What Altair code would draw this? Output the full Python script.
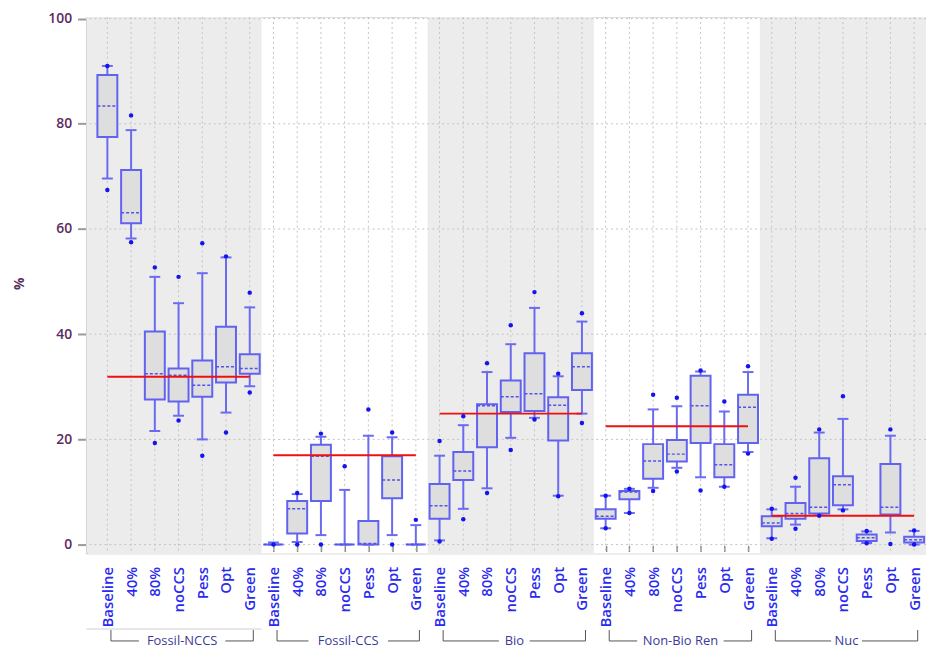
import altair as alt
import pandas as pd
import numpy as np

groups = ["Fossil-NCCS", "Fossil-CCS", "Bio", "Non-Bio Ren", "Nuc"]
scenarios = ["Baseline", "40%", "80%", "noCCS", "Pess", "Opt", "Green"]

# statistics, in order group by group, scenario by scenario (35 boxes)
low_outlier = [67.4, 57.5, 19.3, 23.6, 16.9, 21.3, 28.9,
               0.0, 0.0, 0.0, None, None, 0.0, None,
               0.6, 4.8, 9.8, 18.0, 23.8, 9.2, 23.1,
               3.1, 6.0, 10.2, 13.9, 10.3, 11.0, 17.3,
               1.1, 3.0, 5.5, 6.5, 0.25, 0.1, 0.0]
low_whisker = [69.6, 58.2, 21.6, 24.5, 20.0, 25.1, 30.1,
               0.0, 0.5, 1.8, 0.0, 0.0, 1.8, 0.0,
               0.8, 6.8, 10.7, 20.3, 24.1, 9.3, 24.9,
               3.1, 6.0, 10.8, 14.6, 12.8, 11.0, 17.6,
               1.2, 3.8, 5.9, 6.7, 0.3, 2.3, 0.0]
q1 = [77.5, 61.1, 27.6, 27.2, 28.1, 30.8, 32.5,
      0.0, 2.1, 8.3, 0.0, 0.0, 8.8, 0.0,
      4.9, 12.3, 18.5, 25.2, 25.4, 19.8, 29.4,
      4.9, 8.6, 12.5, 15.8, 19.3, 12.8, 19.3,
      3.5, 4.9, 5.9, 7.5, 0.7, 5.7, 0.4]
median = [83.4, 63.1, 32.5, 32.2, 30.3, 33.8, 33.5,
          0.0, 6.8, 16.8, 0.0, 0.2, 12.3, 0.0,
          7.4, 14.0, 26.4, 28.1, 28.7, 26.5, 33.8,
          5.4, 10.0, 15.9, 17.2, 26.4, 15.2, 26.1,
          4.1, 5.9, 7.1, 11.4, 1.3, 7.1, 0.9]
q3 = [89.3, 71.2, 40.5, 33.5, 35.0, 41.4, 36.2,
      0.0, 8.3, 19.0, 0.0, 4.5, 16.8, 0.0,
      11.5, 17.6, 26.7, 31.2, 36.4, 28.0, 36.4,
      6.7, 10.2, 19.1, 19.9, 32.1, 19.1, 28.5,
      5.4, 7.9, 16.4, 13.0, 1.9, 15.3, 1.5]
high_whisker = [91.0, 78.8, 50.9, 45.9, 51.6, 54.6, 45.1,
                0.4, 9.6, 20.5, 10.4, 20.7, 20.4, 3.7,
                16.9, 22.7, 32.8, 38.1, 45.0, 32.0, 42.4,
                9.3, 10.6, 25.7, 26.3, 32.9, 25.3, 32.8,
                6.7, 11.0, 21.3, 23.9, 2.5, 20.7, 2.6]
high_outlier = [91.0, 81.6, 52.7, 50.9, 57.3, 54.8, 47.9,
                None, 9.8, 21.1, 14.9, 25.7, 21.3, 4.7,
                19.7, 24.4, 34.5, 41.7, 48.0, 32.5, 44.0,
                9.3, 10.6, 28.5, 27.9, 33.1, 27.2, 33.9,
                6.8, 12.7, 21.9, 28.2, 2.6, 21.9, 2.7]
red_levels = [31.9, 17.0, 24.9, 22.5, 5.5]
y_ticks = [0, 20, 40, 60, 80, 100]

# ---------- tables ----------
n_s = len(scenarios)
rows = []
for g, grp in enumerate(groups):
    for s, sc in enumerate(scenarios):
        i = g * n_s + s
        rows.append(dict(idx=i, group=grp, scenario=sc,
                         lw=low_whisker[i], q1=q1[i], med=median[i],
                         q3=q3[i], hw=high_whisker[i]))
df = pd.DataFrame(rows)
df["bl"] = df["idx"] - 0.42
df["br"] = df["idx"] + 0.42
df["cl"] = df["idx"] - 0.23
df["cr"] = df["idx"] + 0.23

out_rows = []
for i in range(len(df)):
    for v in (low_outlier[i], high_outlier[i]):
        if v is not None:
            out_rows.append(dict(idx=i, val=v))
outs = pd.DataFrame(out_rows)

XMIN, XMAX = -0.88, 34.5
W, H = 845, 540
step = W / (XMAX - XMIN)

bands = pd.DataFrame([dict(x0=(XMIN if g == 0 else g * n_s - 0.5),
                           x1=(XMAX if g == len(groups) - 1 else g * n_s + 6.5))
                      for g in range(0, len(groups), 2)])
reds = pd.DataFrame([dict(x0=g * n_s, x1=g * n_s + 6, y=red_levels[g])
                     for g in range(len(groups))])

# bracket pieces below the axis
br_rows, seg_rows, txt_rows = [], [], []
for g, grp in enumerate(groups):
    left = g * n_s + 0.15
    right = g * n_s + 6.15
    centre = (left + right) / 2
    half = (len(grp) * 7.0 / 2 + 5) / step
    seg_rows.append(dict(x0=left, x1=centre - half))
    seg_rows.append(dict(x0=centre + half, x1=right))
    br_rows.append(dict(x=left))
    br_rows.append(dict(x=right))
    txt_rows.append(dict(x=centre, label=grp))
segs = pd.DataFrame(seg_rows)
ends = pd.DataFrame(br_rows)
txts = pd.DataFrame(txt_rows)
topline = pd.DataFrame([dict(x0=XMIN, x1=6.5)])

# ---------- scales / axes ----------
xscale = alt.Scale(domain=[XMIN, XMAX], nice=False, zero=False)
yscale = alt.Scale(domain=[-1.7, 100.3], nice=False, zero=False)
label_expr = "[" + ",".join("'" + s + "'" for s in scenarios) + "][datum.value % 7]"
xaxis = alt.Axis(values=list(range(len(df))), labelExpr=label_expr, labelAngle=-90,
                 labelAlign="right", labelBaseline="middle", labelColor="#2a2af0",
                 labelFont="Open Sans", labelFontSize=15, labelFontWeight=600,
                 labelPadding=15, labelFlush=False, labelOverlap=False,
                 tickSize=6, tickColor="#8a8a8a", tickWidth=1.5,
                 domain=False, grid=False, offset=-8, title=None)
yaxis = alt.Axis(values=y_ticks, labelColor="#5a2d5e", labelFont="Open Sans",
                 labelFontSize=14, labelFontWeight=600, labelPadding=6,
                 tickSize=9, tickColor="#9a9a9a", tickWidth=2,
                 domainColor="#bdbdbd", domainWidth=2, grid=False,
                 title="%", titleColor="#5a2d5e", titleFont="Open Sans",
                 titleFontSize=14, titleFontWeight="bold", titleBaseline="middle",
                 titleX=-67, titleY=268)


def X(f):
    return alt.X(f, type="quantitative", scale=xscale, axis=xaxis)


def Y(f):
    return alt.Y(f, type="quantitative", scale=yscale, axis=yaxis)


blue_line = "#6b6bf2"

band_layer = alt.Chart(bands).mark_rect(color="#ececec").encode(
    x=X("x0"), x2="x1", y=alt.value(0), y2=alt.value(H))

vgrid = alt.Chart(df).mark_rule(color="#c4c4c4", strokeDash=[2, 3], strokeWidth=1).encode(
    x=X("idx"))
hgrid = alt.Chart(pd.DataFrame({"v": y_ticks})).mark_rule(
    color="#c4c4c4", strokeDash=[2, 3], strokeWidth=1).encode(y=Y("v"))

whisk = alt.Chart(df).mark_rule(color=blue_line, strokeWidth=2).encode(
    x=X("idx"), y=Y("lw"), y2="hw")
cap_hi = alt.Chart(df).mark_rule(color=blue_line, strokeWidth=2).encode(
    x=X("cl"), x2="cr", y=Y("hw"))
cap_lo = alt.Chart(df).mark_rule(color=blue_line, strokeWidth=2).encode(
    x=X("cl"), x2="cr", y=Y("lw"))
boxes = alt.Chart(df).mark_rect(fill="#dedede", stroke="#6262f0", strokeWidth=2).encode(
    x=X("bl"), x2="br", y=Y("q1"), y2="q3")
meds = alt.Chart(df).mark_rule(color="#5252ee", strokeWidth=1.5, strokeDash=[3, 2]).encode(
    x=X("bl"), x2="br", y=Y("med"))
red = alt.Chart(reds).mark_rule(color="#f01010", strokeWidth=2).encode(
    x=X("x0"), x2="x1", y=Y("y"))
dots = alt.Chart(outs).mark_circle(color="#1414ee", opacity=1, size=20).encode(
    x=X("idx"), y=Y("val"))

# below-axis group brackets (pixel offsets from the plot top)
BR_Y = 628
top_line = alt.Chart(topline).mark_rule(color="#d0d0d0", strokeWidth=1).encode(
    x=X("x0"), x2="x1", y=alt.value(BR_Y - 12))
seg_layer = alt.Chart(segs).mark_rule(color="#555555", strokeWidth=1).encode(
    x=X("x0"), x2="x1", y=alt.value(BR_Y))
end_layer = alt.Chart(ends).mark_rule(color="#555555", strokeWidth=1).encode(
    x=X("x"), y=alt.value(BR_Y - 11), y2=alt.value(BR_Y))
txt_layer = alt.Chart(txts).mark_text(font="Open Sans", fontSize=13, color="#3a3a9a",
                                      baseline="alphabetic", align="center").encode(
    x=X("x"), y=alt.value(BR_Y + 4.5), text="label:N")

chart = alt.layer(band_layer, vgrid, hgrid, whisk, cap_hi, cap_lo, boxes, meds, red, dots,
                  top_line, seg_layer, end_layer, txt_layer).properties(
    width=W, height=H,
    autosize=alt.AutoSizeParams(type="none"),
    padding={"left": 79, "top": 7, "right": 0, "bottom": 95},
).configure_view(stroke=None).configure(background="white")

chart.save("out.html", embed_options={"renderer": "svg", "actions": False})
